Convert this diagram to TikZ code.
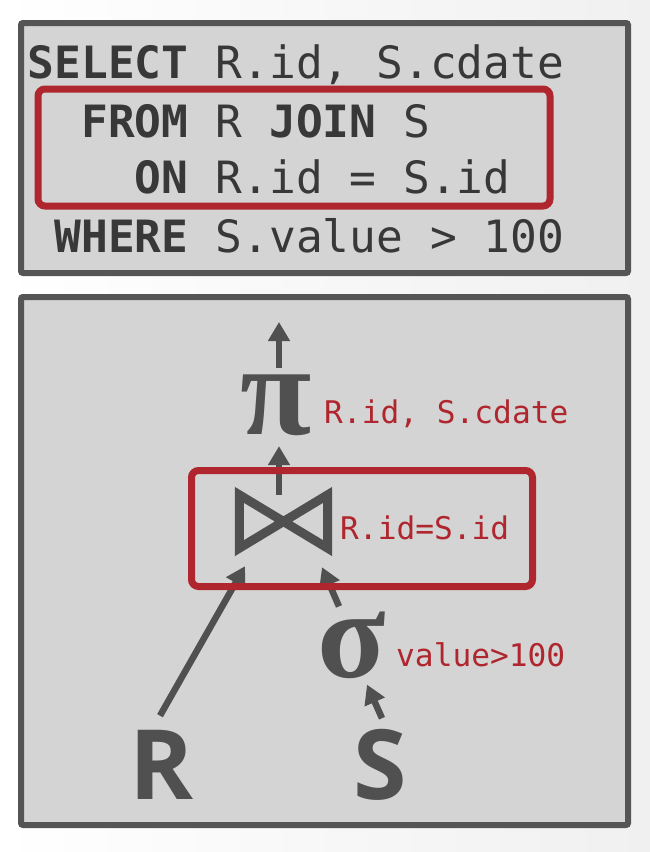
\documentclass[tikz,border=0pt]{standalone}
\usepackage{fontspec}
\usetikzlibrary{arrows.meta}
\newfontfamily\monof{DejaVu Sans Mono}
\newfontfamily\greekf{Liberation Serif}
\newfontfamily\relf{Open Sans}
\definecolor{bordergray}{HTML}{555555}
\definecolor{boxfill}{HTML}{D4D4D4}
\definecolor{txt}{HTML}{383838}
\definecolor{glyph}{HTML}{505050}
\definecolor{dbred}{HTML}{B0262E}
\definecolor{bgright}{HTML}{F0F0F0}
\tikzset{
  panel/.style={draw=bordergray, fill=boxfill, line width=6pt, rounded corners=2pt, inner sep=0pt},
  redbox/.style={draw=dbred, line width=7pt, rounded corners=7pt, inner sep=0pt},
  kw/.style={anchor=base east, inner sep=0pt, text=txt, font=\monof\bfseries\fontsize{44.5}{54}\selectfont},
  kwin/.style={anchor=base west, inner sep=0pt, text=txt, font=\monof\bfseries\fontsize{44.5}{54}\selectfont},
  code/.style={anchor=base west, inner sep=0pt, text=txt, font=\monof\fontsize{44.5}{54}\selectfont},
  lbl/.style={anchor=base west, inner sep=0pt, text=dbred, font=\monof\fontsize{31.2}{37}\selectfont},
  greek/.style={inner sep=0pt, text=glyph, font=\greekf\bfseries\fontsize{#1}{#1}\selectfont},
  rel/.style={inner sep=0pt, text=glyph, font=\relf\bfseries\fontsize{97}{97}\selectfont},
  arr/.style={draw=glyph, line width=6.5pt, -{Triangle[length=19pt,width=21pt]}},
  bowtie/.style={draw=glyph, line width=9pt, miter limit=10}
}
\begin{document}
\begin{tikzpicture}[x=1pt,y=-1pt]
\useasboundingbox (0,0) rectangle (650,852);
\fill[left color=white, right color=bgright] (0,0) rectangle (650,852);
% panels
\node[panel, minimum width=607pt, minimum height=250pt] (sqlpanel) at (324.5,148) {};
\node[panel, minimum width=607pt, minimum height=528pt] (planpanel) at (324.5,561) {};
% SQL text (column pitch 26.79, column 0 at x=28)
\node[kw] (kselect) at (188.7,78) {SELECT};
\node[code] (cselect) at (215.5,78) {R.id, S.cdate};
\node[kw] (kfrom) at (188.7,137) {FROM};
\node[code] (cfromr) at (215.5,137) {R};
\node[kwin] (kjoin) at (269.1,137) {JOIN};
\node[code] (cfroms) at (403,137) {S};
\node[kw] (kon) at (188.7,193) {ON};
\node[code] (con) at (215.5,193) {R.id = S.id};
\node[kw] (kwhere) at (188.7,252) {WHERE};
\node[code] (cwhere) at (215.5,252) {S.value > 100};
% plan glyphs
\node[greek=130] (pi) at (276.5,405.5) {π};
\node[lbl] (pilbl) at (324,423) {R.id, S.cdate};
\node[minimum width=88pt, minimum height=53pt, inner sep=0pt] (join) at (283.5,521.5) {};
\draw[bowtie] (join.north west) -- (join.south east) -- (join.north east) -- (join.south west) -- cycle;
\node[lbl] (joinlbl) at (340,539) {R.id=S.id};
\node[greek=126] (sigma) at (352,645) {σ};
\node[lbl] (sigmalbl) at (396,666) {value>100};
\node[rel] (R) at (162,764.5) {R};
\node[rel] (S) at (380.5,765) {S};
\coordinate (out) at (279,322);
% connectors
\draw[arr] ([xshift=2.5pt,yshift=7pt]pi.north) -- (out);
\draw[arr] ([xshift=-4.5pt]join.north) -- ([xshift=2.5pt,yshift=-10pt]pi.south);
\draw[arr] ([xshift=-2pt,yshift=14pt]R.north) -- ([xshift=-38.5pt,yshift=-18pt]join.south);
\draw[arr] ([xshift=-13pt,yshift=5pt]sigma.north) -- ([xshift=38.5pt,yshift=-19pt]join.south);
\draw[arr] ([xshift=1.5pt,yshift=11pt]S.north) -- ([xshift=15pt,yshift=-6pt]sigma.south);
% red frames
\node[redbox, minimum width=512pt, minimum height=117pt] (sqlframe) at (294,147.5) {};
\node[redbox, minimum width=341pt, minimum height=116pt] (joinframe) at (362,528.5) {};
\end{tikzpicture}
\end{document}
